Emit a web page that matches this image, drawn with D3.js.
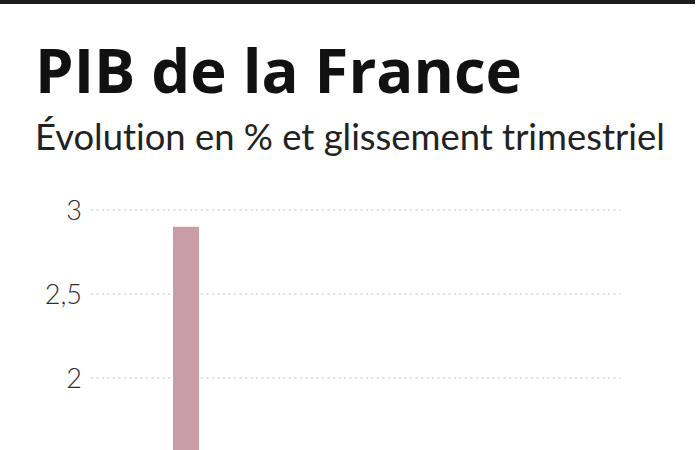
<!DOCTYPE html>
<html>
<head>
<meta charset="utf-8">
<script src="https://cdn.jsdelivr.net/npm/d3@7"></script>
<style>
  html, body { margin: 0; padding: 0; background: #fff; }
  svg { display: block; }
  text { font-variant-ligatures: none; font-feature-settings: "liga" 0; }
</style>
</head>
<body>
<svg id="chart" width="700" height="450"></svg>
<script>
// ---- data ----
const title = "PIB de la France";
const subtitle = "Évolution en % et glissement trimestriel";
const categories = ["T1"];
const values = [2.9];
const yTicks = [2, 2.5, 3];
const yTickLabels = ["2", "2,5", "3"];

// ---- layout ----
const svg = d3.select("#chart");
const plotLeft = 91, plotRight = 620;

svg.append("rect").attr("x", 0).attr("y", 0).attr("width", 695).attr("height", 4).attr("fill", "#1e1e1e");

const t = svg.append("text")
  .attr("x", 35).attr("y", 93)
  .attr("font-family", "'Open Sans', 'Noto Sans', sans-serif")
  .attr("font-weight", 700)
  .attr("font-size", 60)
  .attr("fill", "#111")
  .text(title);
let tw = t.node().getComputedTextLength();
t.attr("font-size", 60 * 487 / tw);

const st = svg.append("text")
  .attr("x", 35).attr("y", 150)
  .attr("font-family", "Lato, 'Noto Sans', sans-serif")
  .attr("font-size", 32)
  .attr("fill", "#222")
  .text(subtitle);
let sw = st.node().getComputedTextLength();
st.attr("font-size", 32 * 630 / sw);

const y = d3.scaleLinear().domain([0, 3]).range([714, 210]);
const x = d3.scaleBand().domain(categories).range([173, 199]).padding(0);

// gridlines
svg.append("g").selectAll("line").data(yTicks).join("line")
  .attr("x1", plotLeft).attr("x2", plotRight)
  .attr("y1", d => y(d)).attr("y2", d => y(d))
  .attr("stroke", "#bdbdbd").attr("stroke-width", 1.2)
  .attr("stroke-dasharray", "2,3.5");

// y axis labels
const yAxis = d3.axisLeft(y).tickValues(yTicks).tickSize(0).tickPadding(0)
  .tickFormat(d => yTickLabels[yTicks.indexOf(d)]);
const ga = svg.append("g").attr("transform", "translate(82,0)").call(yAxis);
ga.select(".domain").remove();
ga.selectAll("text")
  .attr("font-family", "Lato, 'Noto Sans', sans-serif")
  .attr("font-size", 27)
  .attr("font-weight", 300)
  .attr("fill", "#2e2e2e")
  .attr("dy", "0.34em");

// bars
svg.append("g").selectAll("rect").data(values).join("rect")
  .attr("x", (d, i) => x(categories[i]))
  .attr("width", x.bandwidth())
  .attr("y", d => y(d))
  .attr("height", d => y(0) - y(d))
  .attr("fill", "#c89da7");
</script>
</body>
</html>
